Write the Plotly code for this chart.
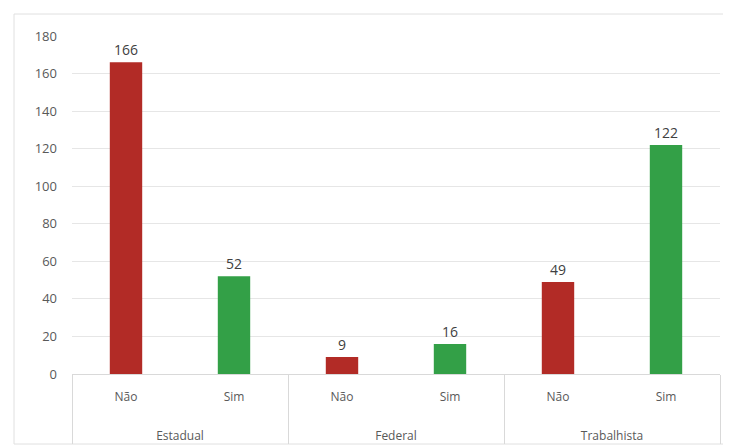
import plotly.graph_objects as go

groups = ["Estadual", "Estadual", "Federal", "Federal", "Trabalhista", "Trabalhista"]
answers = ["Não", "Sim", "Não", "Sim", "Não", "Sim"]
values = [166, 52, 9, 16, 49, 122]
y_ticks = [0, 20, 40, 60, 80, 100, 120, 140, 160, 180]

RED = "#B22B26"
GREEN = "#33A047"
colors = [RED if a == "Não" else GREEN for a in answers]

# page body has an 8px margin, so the figure is drawn 8px smaller
W, H = 723, 440
L, R, T, B = 64, 11, 28, 74

group_labels = ["<br><br>" + g for g in groups]

fig = go.Figure()
fig.add_trace(go.Bar(
    x=[group_labels, answers], y=values,
    marker=dict(color=colors, line=dict(width=0)),
    text=[str(v) for v in values], textposition="outside",
    textfont=dict(color="#404040", size=14),
    cliponaxis=False, width=0.3, showlegend=False,
))

fig.update_layout(
    width=W, height=H,
    margin=dict(l=L, r=R, t=T, b=B, autoexpand=False),
    paper_bgcolor="white", plot_bgcolor="white",
    font=dict(family="Open Sans, Liberation Sans, sans-serif", size=12, color="#595959"),
    xaxis=dict(showdividers=True, dividercolor="#D9D9D9", dividerwidth=1,
               showline=True, linecolor="#D9D9D9", linewidth=1,
               tickfont=dict(size=12, color="#595959"),
               ticks="", ticklabelstandoff=12, automargin=False),
    yaxis=dict(range=[0, 180], tickvals=y_ticks, showgrid=True, gridcolor="#E6E6E6",
               gridwidth=1, zeroline=False, showline=False,
               tickfont=dict(size=13, color="#595959"), ticklabelstandoff=14),
    bargap=0.7,
)

pw, ph = W - L - R, H - T - B
x0 = (6 - L) / pw
x1 = (719 - L) / pw
y0 = (H - B - 436) / ph
y1 = (H - B - 6) / ph
fig.add_shape(type="rect", xref="paper", yref="paper", x0=x0, x1=x1, y0=y0, y1=y1,
              line=dict(color="#E0E0E0", width=1), fillcolor="rgba(0,0,0,0)", layer="below")

fig.write_html("out.html")
